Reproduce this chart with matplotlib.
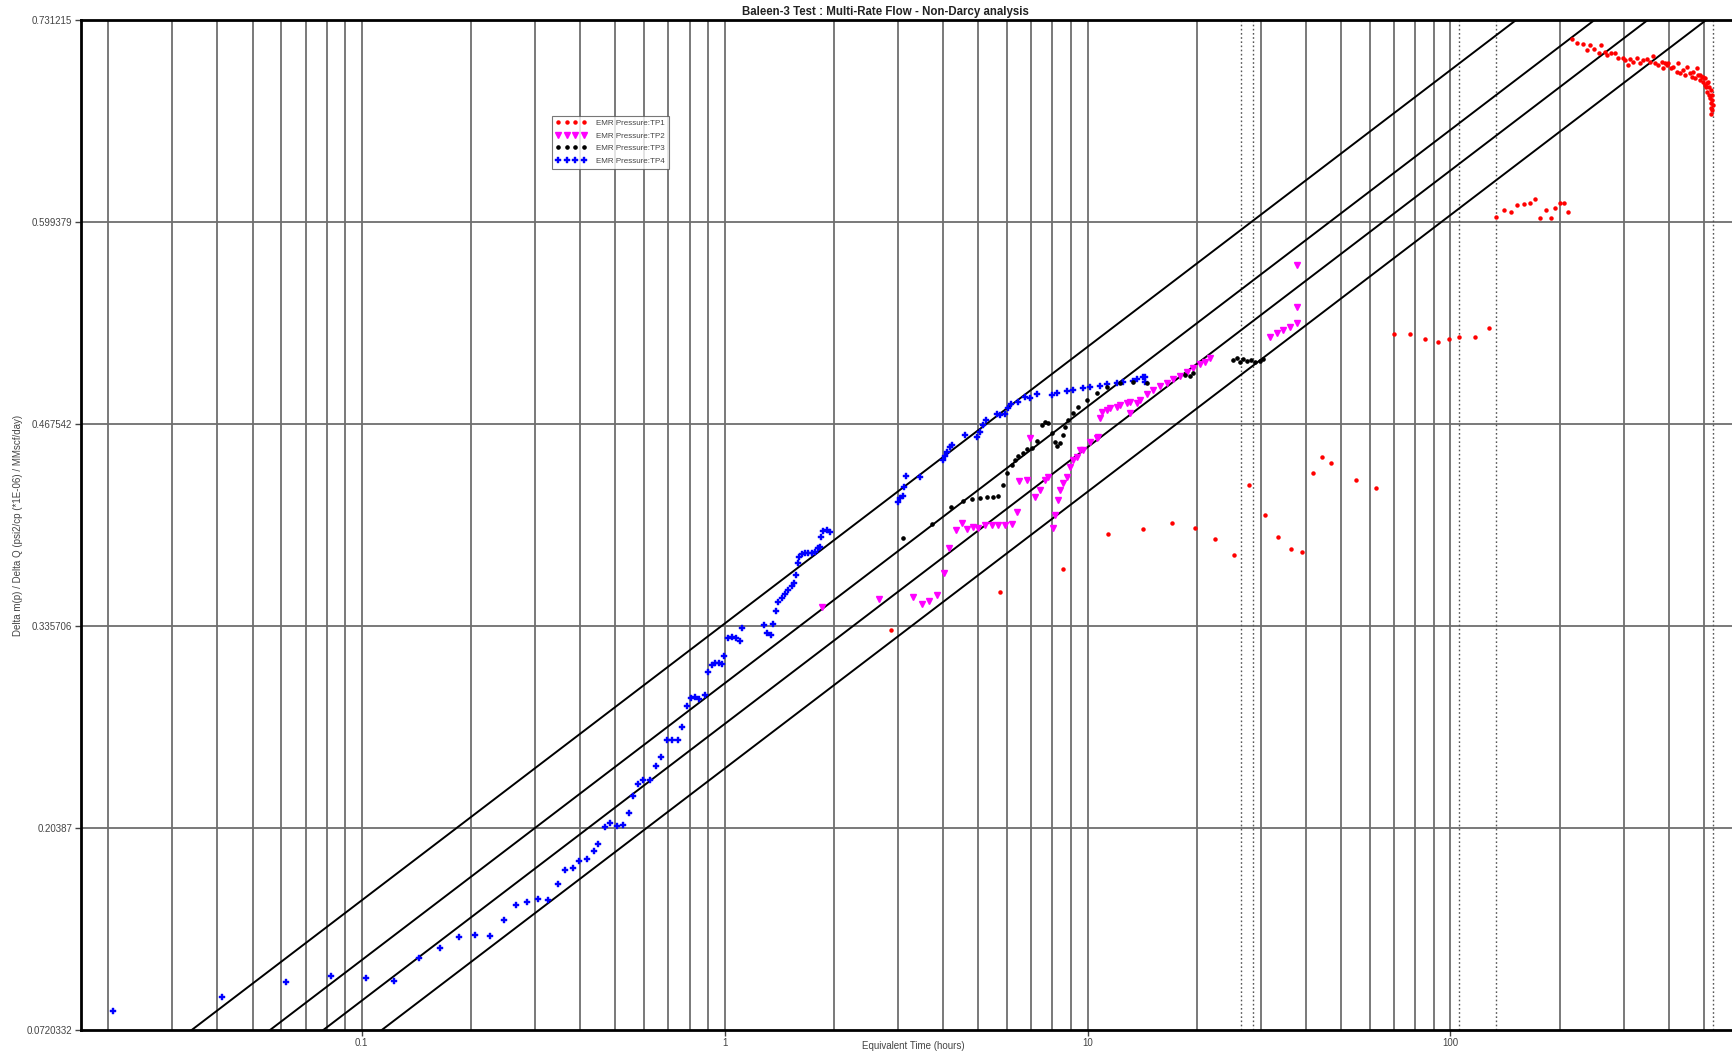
import matplotlib
matplotlib.use("Agg")
import matplotlib.pyplot as plt
import numpy as np
from matplotlib.ticker import FixedLocator, NullFormatter

plt.rcParams['font.family'] = ['Liberation Sans', 'DejaVu Sans']

# ---------------- data ----------------
y_ticks = [0.0720332, 0.20387, 0.335706, 0.467542, 0.599379, 0.731215]
y_tick_labels = ['0.0720332', '0.20387', '0.335706', '0.467542', '0.599379', '0.731215']
x_ticks = [0.1, 1, 10, 100]
x_tick_labels = ['0.1', '1', '10', '100']

# semilog straight lines: value = intercept + slope * log10(t)
line_slope = 0.1806
line_intercepts = [0.3373, 0.2983, 0.2718, 0.2427]

# flow period markers (hours)
period_marks = [26.45, 28.65, 105.4, 133.8, 530.3]

tp1_t = [2.870, 5.743, 8.578, 11.35, 14.20, 17.06, 19.82, 22.50, 25.28, 27.86, 30.84,
         33.57, 36.38, 38.94, 41.75, 44.20, 46.88, 54.95, 62.37, 70.04, 77.39, 85.11,
         92.26, 99.31, 105.8, 116.9, 127.8,
         133.8, 140.5, 146.6, 152.9, 159.5, 165.4, 171.3, 176.9, 183.1, 189.0, 194.6,
         200.5, 205.6, 211.3,
         216.7, 223.7, 231.5, 237.5, 242.5, 248.7, 257.2, 260.5, 266.7, 270.6, 276.5,
         284.2, 290.2, 298.4, 302.8, 309.2, 312.6, 319.2, 326.2, 333.1, 340.1, 347.5,
         354.9, 362.4, 366.3, 374.1, 382.2, 386.1, 390.3, 394.5, 398.5, 404.6, 411.4,
         420.3, 424.6, 429.2, 438.3, 443.0, 449.5, 457.2, 462.3, 466.9, 472.1, 477.2,
         482.1, 487.2, 492.5, 497.6, 502.9, 508.4, 513.5, 516.9, 521.4, 524.8, 526.8,
         528.1, 525.8, 522.5, 506.2, 510.4, 514.9, 519.2, 522.5, 523.4, 497.6, 487.2,
         502.9]
tp1_v = [0.3331, 0.3581, 0.3731, 0.3956, 0.3990, 0.4027, 0.3999, 0.3924, 0.3820, 0.4275, 0.4081,
         0.3940, 0.3860, 0.3842, 0.4358, 0.4462, 0.4423, 0.4310, 0.4260, 0.5265, 0.5261, 0.5228,
         0.5213, 0.5232, 0.5241, 0.5243, 0.5301,
         0.6024, 0.6072, 0.6059, 0.6103, 0.6109, 0.6120, 0.6144, 0.6020, 0.6070, 0.6020, 0.6087,
         0.6116, 0.6120, 0.6059,
         0.7186, 0.7160, 0.7155, 0.7116, 0.7151, 0.7121, 0.7095, 0.7151, 0.7105, 0.7084, 0.7099,
         0.7095, 0.7066, 0.7066, 0.7051, 0.7018, 0.7056, 0.7040, 0.7062, 0.7029, 0.7051, 0.7056,
         0.7040, 0.7077, 0.7029, 0.7018, 0.7040, 0.6997, 0.7029, 0.7018, 0.7029, 0.6997, 0.7007,
         0.6975, 0.7029, 0.6964, 0.6986, 0.6953, 0.7007, 0.6964, 0.6942, 0.6975, 0.6932, 0.6997,
         0.6953, 0.6920, 0.6942, 0.6909, 0.6932, 0.6899, 0.6909, 0.6877, 0.6855, 0.6823, 0.6790,
         0.6757, 0.6725, 0.6699, 0.6877, 0.6844, 0.6823, 0.6801, 0.6769, 0.6736, 0.6942, 0.6953,
         0.6888]

tp2_t = [1.852, 2.669, 3.299, 3.493, 3.665, 3.856, 4.023, 4.161, 4.342, 4.501, 4.646, 4.844,
         5.001, 5.221, 5.445, 5.680, 5.928, 6.181, 6.405, 6.487, 6.800, 6.942, 7.165, 7.396,
         7.637, 7.798, 8.051, 8.139, 8.312, 8.400, 8.578, 8.763, 8.948, 9.140, 9.338, 9.536,
         9.736, 10.16, 10.60, 10.71, 10.83, 10.94, 11.30, 11.53, 12.04, 12.29, 12.83, 13.10,
         13.10, 13.67, 13.95, 14.56, 15.18, 15.84, 16.53, 17.24, 17.98, 18.77, 19.56, 20.42,
         21.08, 21.76, 31.84, 33.22, 34.64, 36.14, 37.72, 37.72, 37.72]
tp2_v = [0.3479, 0.3531, 0.3548, 0.3499, 0.3520, 0.3559, 0.3701, 0.3864, 0.3984, 0.4027, 0.3988, 0.4001,
         0.3995, 0.4014, 0.4018, 0.4014, 0.4018, 0.4023, 0.4103, 0.4305, 0.4310, 0.4582, 0.4201, 0.4245,
         0.4310, 0.4331, 0.3995, 0.4081, 0.4179, 0.4245, 0.4288, 0.4331, 0.4397, 0.4440, 0.4462, 0.4506,
         0.4506, 0.4560, 0.4582, 0.4593, 0.4713, 0.4756, 0.4767, 0.4778, 0.4788, 0.4799, 0.4810, 0.4821,
         0.4745, 0.4810, 0.4832, 0.4871, 0.4897, 0.4923, 0.4943, 0.4969, 0.4989, 0.5015, 0.5041, 0.5067,
         0.5080, 0.5106, 0.5245, 0.5269, 0.5289, 0.5308, 0.5333, 0.5441, 0.5713]

tp3_t = [3.108, 3.721, 4.199, 4.548, 4.797, 5.057, 5.276, 5.502, 5.680, 5.861, 6.012, 6.181,
         6.312, 6.446, 6.628, 6.800, 7.018, 7.244, 7.479, 7.637, 7.798, 7.969, 8.139, 8.258,
         8.400, 8.546, 8.670, 8.853, 9.105, 9.436, 9.950, 10.60, 11.30, 12.29, 13.37, 14.56,
         18.57, 19.16, 19.56, 25.22, 25.77, 26.31, 26.87, 27.51, 28.22, 28.94, 29.87, 30.51]
tp3_v = [0.3929, 0.4023, 0.4132, 0.4175, 0.4184, 0.4194, 0.4197, 0.4201, 0.4206, 0.4277, 0.4358, 0.4408,
         0.4440, 0.4466, 0.4488, 0.4510, 0.4517, 0.4566, 0.4669, 0.4690, 0.4684, 0.4615, 0.4560, 0.4532,
         0.4553, 0.4604, 0.4658, 0.4701, 0.4745, 0.4788, 0.4832, 0.4876, 0.4919, 0.4941, 0.4951, 0.4941,
         0.4995, 0.4989, 0.5006, 0.5093, 0.5106, 0.5080, 0.5100, 0.5087, 0.5093, 0.5080, 0.5087, 0.5100]

tp4_t = [0.02068, 0.04129, 0.06185, 0.08228, 0.1027, 0.1230, 0.1436, 0.1646, 0.1851, 0.2048,
         0.2258, 0.2461, 0.2667, 0.2860, 0.3066, 0.3261, 0.3467, 0.3628, 0.3810, 0.3973,
         0.4174, 0.4352, 0.4476, 0.4667, 0.4836, 0.5043, 0.5259, 0.5449, 0.5603, 0.5761,
         0.5967, 0.6225, 0.6447, 0.6675, 0.6914, 0.7164, 0.7415, 0.7627, 0.7862, 0.8064,
         0.8288, 0.8517, 0.8831, 0.9017, 0.9214, 0.9409, 0.9669, 0.9856, 0.9962, 1.0238,
         1.0461, 1.0729, 1.1026, 1.1146, 1.2841, 1.3112, 1.3424, 1.3620, 1.3854, 1.4060,
         1.4365, 1.4669, 1.4980, 1.5308, 1.5532, 1.5733, 1.5901, 1.6063, 1.6312, 1.6657,
         1.7008, 1.7378, 1.7748, 1.8124, 1.8322, 1.8437, 1.8707, 1.9116, 1.9518, 3.0107,
         3.0428, 3.0955, 3.1270, 3.1548, 3.4544, 4.0058, 4.0494, 4.1092, 4.1798, 4.2253,
         4.5972, 4.9716, 5.0572, 5.1643, 5.2531, 5.6234, 5.7425, 5.9279, 6.0535, 6.1575,
         6.446, 6.7251, 6.9422, 7.2444, 7.9688, 8.2257, 8.7628, 9.1403, 9.7364, 10.160,
         10.826, 11.296, 12.036, 12.55, 13.37, 13.67, 14.25, 14.41, 14.41]
tp4_v = [0.0846, 0.0936, 0.1036, 0.1073, 0.1058, 0.1042, 0.1188, 0.1254, 0.1325, 0.1340,
         0.1334, 0.1438, 0.1536, 0.1554, 0.1573, 0.1569, 0.1675, 0.1766, 0.1780, 0.1823,
         0.1838, 0.1889, 0.1932, 0.2047, 0.2069, 0.2054, 0.2061, 0.2134, 0.2249, 0.2328,
         0.2350, 0.2350, 0.2444, 0.2501, 0.2610, 0.2610, 0.2610, 0.2697, 0.2837, 0.2885,
         0.2896, 0.2879, 0.2907, 0.3055, 0.3102, 0.3117, 0.3114, 0.3109, 0.3163, 0.3277,
         0.3287, 0.3277, 0.3261, 0.3346, 0.3364, 0.3309, 0.3298, 0.3370, 0.3457, 0.3516,
         0.3542, 0.3566, 0.3592, 0.3618, 0.3636, 0.3690, 0.3766, 0.3809, 0.3827, 0.3835,
         0.3835, 0.3831, 0.3842, 0.3864, 0.3875, 0.3940, 0.3977, 0.3984, 0.3972, 0.4168,
         0.4190, 0.4207, 0.4262, 0.4336, 0.4331, 0.4440, 0.4466, 0.4494, 0.4523, 0.4538,
         0.4604, 0.4593, 0.4625, 0.4669, 0.4701, 0.4739, 0.4734, 0.4741, 0.4778, 0.4806,
         0.4821, 0.4854, 0.4843, 0.4871, 0.4865, 0.4876, 0.4891, 0.4897, 0.4908, 0.4919,
         0.4923, 0.4936, 0.4941, 0.4951, 0.4958, 0.4967, 0.4980, 0.4984, 0.4951]

series_labels = ['EMR Pressure:TP1', 'EMR Pressure:TP2', 'EMR Pressure:TP3', 'EMR Pressure:TP4']

x_min, x_max = 0.0168, 600.8
y_min, y_max = y_ticks[0], y_ticks[-1]

# ---------------- figure ----------------
W, H = 1733, 1055
fig = plt.figure(figsize=(W / 100, H / 100), dpi=100)
ax = fig.add_axes([80.7 / W, 1 - 1030 / H, (W - 80.7) / W, (1030 - 20) / H])
ax.set_xscale('log')
ax.set_xlim(x_min, x_max)
ax.set_ylim(y_min, y_max)

# vertical grid at every decade subdivision
grid_x = [m * 10.0 ** d for d in range(-2, 3) for m in range(1, 10)]
grid_x = [g for g in grid_x if x_min < g < x_max]
for g in grid_x:
    ax.axvline(g, color='#6e6e6e', lw=1.3, zorder=1)
for yv in y_ticks[1:-1]:
    ax.axhline(yv, color='#6e6e6e', lw=1.3, zorder=1)
for p in period_marks:
    ax.axvline(p, color='#555555', lw=1.0, ls=(0, (1.2, 1.8)), zorder=1)

# semilog straight lines
t_line = np.logspace(np.log10(x_min), np.log10(x_max), 200)
for b in line_intercepts:
    ax.plot(t_line, b + line_slope * np.log10(t_line), color='black', lw=1.4, zorder=2)

h1, = ax.plot(tp1_t, tp1_v, ls='none', marker='o', ms=2.2, color='#ff0000', mec='#ff0000', zorder=3)
h2, = ax.plot(tp2_t, tp2_v, ls='none', marker='v', ms=4.6, color='#ff00ff', mec='#ff00ff', zorder=3)
h3, = ax.plot(tp3_t, tp3_v, ls='none', marker='o', ms=2.3, color='black', mec='black', zorder=4)
h4, = ax.plot(tp4_t, tp4_v, ls='none', marker='P', ms=4.6, color='#0000ff', mec='#0000ff',
              mew=0.3, zorder=3)

leg = fig.legend([h1, h2, h3, h4], series_labels, loc='upper left',
                 bbox_to_anchor=(551.7 / W, 1 - 115.5 / H), numpoints=4,
                 fontsize=5.8, frameon=True, fancybox=False, borderpad=0.5,
                 handlelength=3.8, handletextpad=1.2, labelspacing=0.6,
                 borderaxespad=0.0)
leg.get_frame().set_edgecolor('#555555')
leg.get_frame().set_linewidth(0.8)
for t in leg.get_texts():
    t.set_color('#444444')

# axes and ticks
for side in ['left', 'bottom', 'top']:
    ax.spines[side].set_linewidth(2.0)
    ax.spines[side].set_color('black')
ax.spines['right'].set_visible(False)

ax.yaxis.set_major_locator(FixedLocator(y_ticks))
ax.set_yticklabels(y_tick_labels)
ax.xaxis.set_major_locator(FixedLocator(x_ticks))
ax.set_xticklabels(x_tick_labels)
ax.xaxis.set_minor_locator(FixedLocator([]))
ax.xaxis.set_minor_formatter(NullFormatter())
ax.tick_params(axis='both', which='major', direction='out', length=4, width=1.0,
               labelsize=7, labelcolor='#444444', color='#444444', pad=2)

ax.set_xlabel('Equivalent Time (hours)', fontsize=7, color='#444444')
ax.set_ylabel('Delta m(p) / Delta Q (psi2/cp (*1E-06) / MMscf/day)', fontsize=7,
              color='#444444')
ax.xaxis.set_label_coords((913 - 80.7) / (W - 80.7), -0.0105)
ax.yaxis.set_label_coords(-(80.7 - 23.5) / (W - 80.7), 0.5)

fig.text(885 / W, 1 - 12 / H, 'Baleen-3 Test : Multi-Rate Flow - Non-Darcy analysis',
         ha='center', va='center', fontsize=8.3, fontweight='bold', color='#222222')

fig.savefig('out.png', dpi=100)
